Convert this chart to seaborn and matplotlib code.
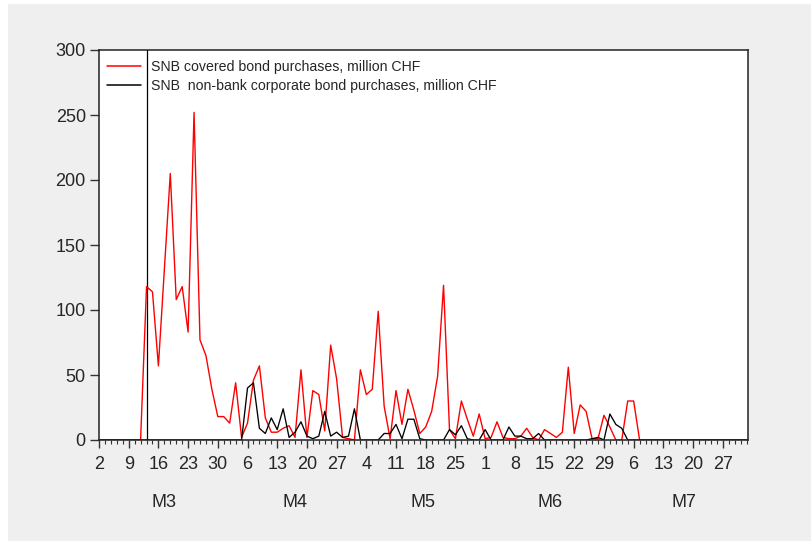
import numpy as np
import pandas as pd
import matplotlib
matplotlib.use("Agg")
import matplotlib.pyplot as plt
from matplotlib.patches import Rectangle
from matplotlib.ticker import FixedLocator, FixedFormatter
import seaborn as sns

# ---------------- data ----------------
dates = pd.bdate_range("2020-03-02", "2020-07-31")

covered = [0, 0, 0, 0, 0, 0, 0, 0, 118, 114,
           57, 131, 205, 108, 118, 83, 252, 77, 65, 39,
           18, 18, 13, 44, 2, 13, 46, 57, 17, 6,
           6, 9, 11, 2, 54, 2, 38, 35, 7, 73,
           47, 2, 1, 0, 54, 35, 39, 99, 26, 1,
           38, 12, 39, 23, 5, 10, 22, 49, 119, 8,
           1, 30, 16, 3, 20, 1, 2, 14, 2, 1,
           1, 3, 9, 2, 0, 8, 5, 2, 6, 56,
           5, 27, 22, 1, 1, 19, 10, 0, 0, 30,
           30, 0, 0, 0, 0, 0, 0, 0, 0, 0,
           0, 0, 0, 0, 0, 0, 0, 0, 0, 0]

corporate = [0, 0, 0, 0, 0, 0, 0, 0, 0, 0,
             0, 0, 0, 0, 0, 0, 0, 0, 0, 0,
             0, 0, 0, 0, 0, 40, 44, 9, 5, 17,
             8, 24, 2, 6, 14, 3, 1, 3, 22, 3,
             6, 2, 3, 24, 0, 0, 0, 0, 5, 5,
             12, 1, 16, 16, 1, 0, 0, 0, 0, 8,
             4, 11, 1, 0, 0, 8, 0, 0, 0, 10,
             3, 3, 1, 1, 5, 0, 0, 0, 0, 0,
             0, 0, 0, 1, 2, 0, 20, 12, 9, 0,
             0, 0, 0, 0, 0, 0, 0, 0, 0, 0,
             0, 0, 0, 0, 0, 0, 0, 0, 0, 0]

label_covered = "SNB covered bond purchases, million CHF"
label_corporate = "SNB  non-bank corporate bond purchases, million CHF"
month_labels = ["M3", "M4", "M5", "M6", "M7"]
event_index = 8  # vertical marker (12 March 2020)

# ---------------- styling ----------------
sns.set_style("white")
plt.rcParams["font.family"] = ["Liberation Sans", "DejaVu Sans"]

fig = plt.figure(figsize=(8.11, 5.41), dpi=100, facecolor="white")
fig.patches.append(Rectangle((8 / 811, 0), 1, (541 - 4) / 541,
                             transform=fig.transFigure, facecolor="#efefef",
                             edgecolor="none", zorder=-10))
ax = fig.add_axes([99 / 811, (541 - 440) / 541, (748 - 99) / 811, 390 / 541])
ax.set_facecolor("white")

idx = np.arange(len(dates))
df = pd.DataFrame({"idx": idx, "covered": covered, "corporate": corporate})

sns.lineplot(data=df, x="idx", y="covered", color="#ff0000", lw=1.0,
             ax=ax, label=label_covered)
sns.lineplot(data=df, x="idx", y="corporate", color="black", lw=0.95,
             ax=ax, label=label_corporate)
ax.axvline(event_index, color="black", lw=0.9, zorder=1)

ax.set_xlim(0, len(dates) - 0.75)
ax.set_ylim(0, 300)
ax.set_xlabel("")
ax.set_ylabel("")

# x ticks: major on Mondays, minor every business day
mondays = [i for i, d in enumerate(dates) if d.weekday() == 0]
ax.xaxis.set_major_locator(FixedLocator(mondays))
ax.xaxis.set_major_formatter(FixedFormatter([str(dates[i].day) for i in mondays]))
ax.xaxis.set_minor_locator(FixedLocator(idx))
ax.tick_params(axis="x", which="major", direction="out", length=5.5, width=1,
               pad=6, labelsize=13, bottom=True, top=False, color="#333333")
ax.tick_params(axis="x", which="minor", direction="out", length=3, width=0.8,
               bottom=True, top=False, color="#333333")
ax.set_yticks([0, 50, 100, 150, 200, 250, 300])
ax.tick_params(axis="y", which="major", direction="out", length=6.5, width=1,
               pad=3, labelsize=13, left=True, right=False, color="#333333")

for s in ax.spines.values():
    s.set_color("#222222")
    s.set_linewidth(1.1)

# month labels
months = dates.month
for m, lab in zip(sorted(set(months)), month_labels):
    pos = np.where(months == m)[0]
    center = (pos[0] + pos[-1] + 1) / 2
    ax.text(center, -0.16, lab, transform=ax.get_xaxis_transform(),
            ha="center", va="center", fontsize=13)

leg = ax.legend(loc="upper left", bbox_to_anchor=(0.012, 0.975), frameon=False,
                fontsize=10.2, handlelength=2.45, handletextpad=0.65,
                borderpad=0, borderaxespad=0, labelspacing=0.4)
for line in leg.get_lines():
    line.set_linewidth(1.1)

fig.savefig("out.png", dpi=100, facecolor=fig.get_facecolor())
